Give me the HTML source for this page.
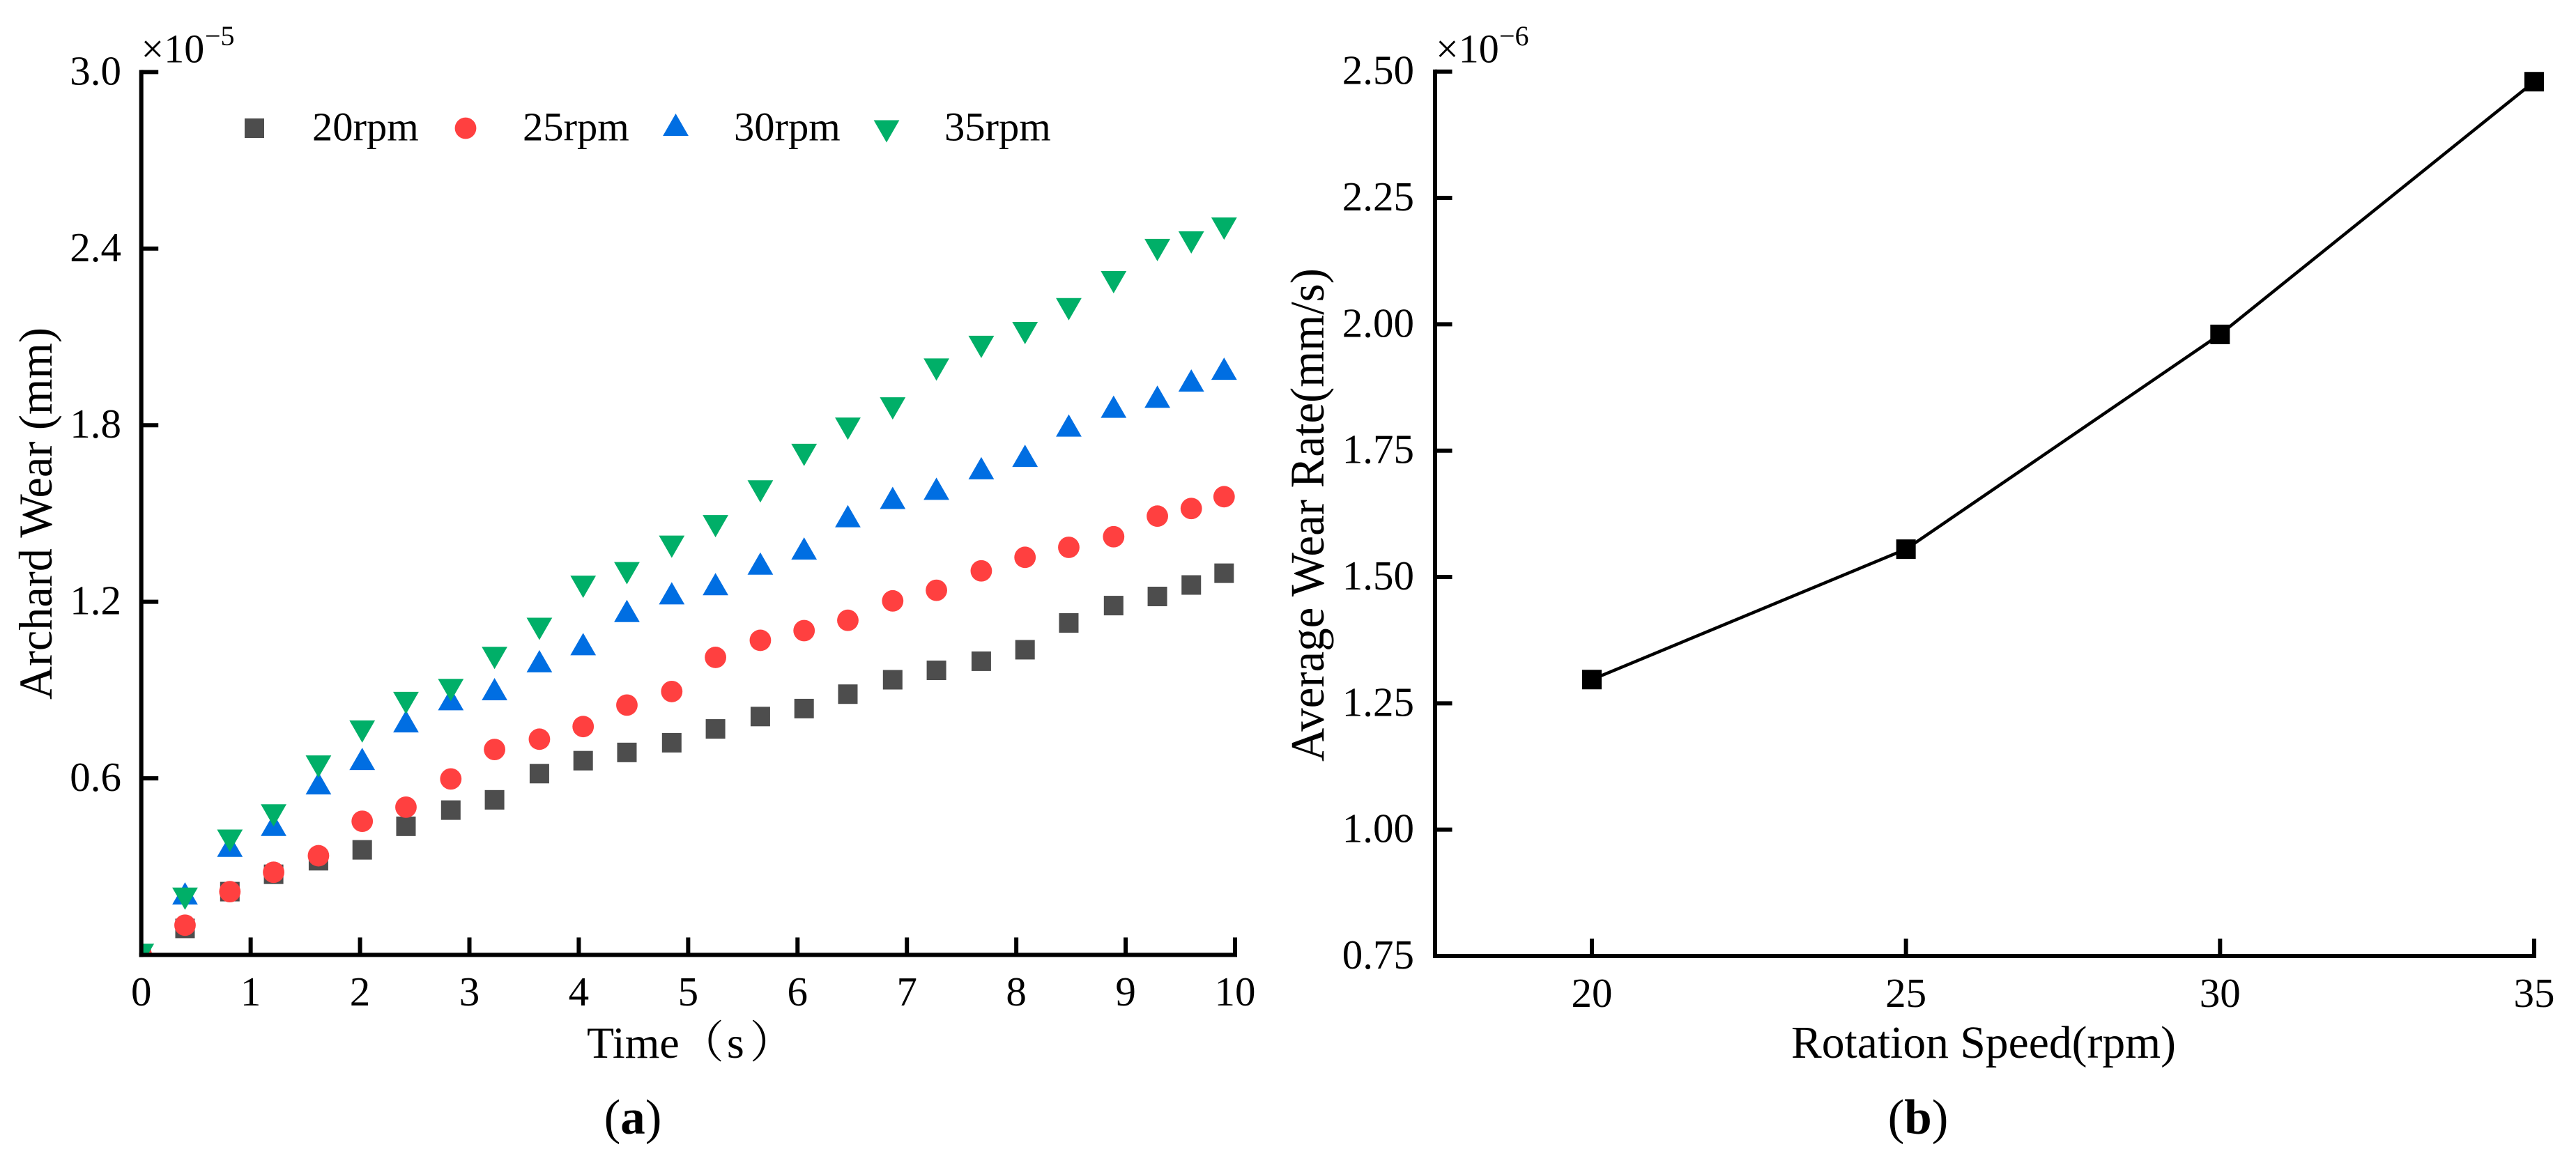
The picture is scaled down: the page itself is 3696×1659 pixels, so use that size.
<!DOCTYPE html>
<html lang="en">
<head>
<meta charset="utf-8">
<title>Archard wear and average wear rate charts</title>
<style>
  html, body { margin: 0; padding: 0; background: #fff; }
  body { width: 3696px; height: 1659px; overflow: hidden; }
  svg { display: block; }
  text { font-family: "Liberation Serif", "Noto Serif CJK SC", serif; fill: #000; }
</style>
</head>
<body>
<svg id="fig" xmlns="http://www.w3.org/2000/svg" width="3696" height="1659" viewBox="0 0 3696 1659">
  <rect x="0" y="0" width="3696" height="1659" fill="#fff"/>
  <defs>
    <clipPath id="plot-a-clip"><rect x="203" y="60" width="1640" height="1311"/></clipPath>
  </defs>

  <g id="panel-a">
    <g id="a-marks" clip-path="url(#plot-a-clip)"></g>
    <g id="a-axes"></g>
    <text x="202.5" y="89.5" font-size="58">×10</text>
    <text x="294" y="65" font-size="40">−5</text>
    <text transform="translate(74 737) rotate(-90)" text-anchor="middle" font-size="68" textLength="534" lengthAdjust="spacingAndGlyphs">Archard Wear (mm)</text>
    <text x="842" y="1518" font-size="64">Time（<tspan dx="4">s</tspan><tspan dx="8">）</tspan></text>
    <g id="a-legend">
      <text x="448" y="201.5" font-size="58.5">20rpm</text>
      <text x="750" y="201.5" font-size="58.5">25rpm</text>
      <text x="1053" y="201.5" font-size="58.5">30rpm</text>
      <text x="1355" y="201.5" font-size="58.5">35rpm</text>
    </g>
    <text x="908" y="1627" text-anchor="middle" font-size="71">(<tspan font-weight="bold">a</tspan>)</text>
  </g>

  <g id="panel-b">
    <g id="b-marks"></g>
    <g id="b-axes"></g>
    <text x="2060" y="89.5" font-size="58">×10</text>
    <text x="2151" y="65" font-size="40">−6</text>
    <text transform="translate(1899 739) rotate(-90)" text-anchor="middle" font-size="69" textLength="708" lengthAdjust="spacingAndGlyphs">Average Wear Rate(mm/s)</text>
    <text x="2570" y="1518" font-size="65.6">Rotation Speed(rpm)</text>
    <text x="2752" y="1627" text-anchor="middle" font-size="71">(<tspan font-weight="bold">b</tspan>)</text>
  </g>
</svg>

<script>
// Panel (a) data: Archard wear (x 1e-5 mm) against time (s)
const timeValues = [0, 0.4, 0.81, 1.21, 1.62, 2.02, 2.42, 2.83, 3.23, 3.64, 4.04, 4.44, 4.85, 5.25, 5.66, 6.06, 6.46, 6.87, 7.27, 7.68, 8.08, 8.48, 8.89, 9.29, 9.6, 9.9];
const wear20rpm = [0, 0.09, 0.215, 0.274, 0.32, 0.357, 0.437, 0.492, 0.527, 0.616, 0.66, 0.688, 0.721, 0.768, 0.81, 0.837, 0.886, 0.935, 0.967, 0.998, 1.037, 1.128, 1.187, 1.218, 1.257, 1.297];
const wear25rpm = [0, 0.101, 0.215, 0.281, 0.337, 0.454, 0.502, 0.598, 0.698, 0.733, 0.776, 0.849, 0.895, 1.011, 1.069, 1.102, 1.137, 1.203, 1.239, 1.305, 1.351, 1.385, 1.421, 1.491, 1.517, 1.557];
const wear30rpm = [0, 0.209, 0.371, 0.442, 0.583, 0.666, 0.794, 0.869, 0.903, 0.998, 1.056, 1.169, 1.229, 1.26, 1.33, 1.381, 1.491, 1.553, 1.584, 1.654, 1.696, 1.799, 1.863, 1.897, 1.952, 1.992];
const wear35rpm = [0, 0.191, 0.388, 0.474, 0.64, 0.759, 0.856, 0.9, 1.009, 1.108, 1.251, 1.297, 1.387, 1.457, 1.575, 1.699, 1.788, 1.857, 1.989, 2.066, 2.113, 2.194, 2.286, 2.395, 2.421, 2.468];
const timeTicks = [0, 1, 2, 3, 4, 5, 6, 7, 8, 9, 10];
const wearTicks = [0.6, 1.2, 1.8, 2.4, 3.0];
const wearTickLabels = ["0.6", "1.2", "1.8", "2.4", "3.0"];

// Panel (b) data: average wear rate (x 1e-6 mm/s) against rotation speed (rpm)
const speedValues = [20, 25, 30, 35];
const rateValues = [1.297, 1.555, 1.98, 2.48];
const rateTicks = [0.75, 1.0, 1.25, 1.5, 1.75, 2.0, 2.25, 2.5];
const rateTickLabels = ["0.75", "1.00", "1.25", "1.50", "1.75", "2.00", "2.25", "2.50"];
const speedTicks = [20, 25, 30, 35];

const NS = "http://www.w3.org/2000/svg";
const TICK_FONT = 59;
const AXIS_W = 6;

function xA(v) { return 202.7 + v * 156.93; }
function yA(v) { return 1370.4 - v * 422.33; }
function xB(v) { return 2284 + (v - 20) * 90.13; }
function yB(v) { return 1372 - (v - 0.75) * 725.3; }

function make(tag, parent) {
  const el = document.createElementNS(NS, tag);
  parent.appendChild(el);
  return el;
}

function rectMarker(parent, cx, cy, fill, size, name) {
  const el = make("rect", parent);
  el.setAttribute("x", cx - size / 2);
  el.setAttribute("y", cy - size / 2);
  el.setAttribute("width", size);
  el.setAttribute("height", size);
  el.setAttribute("fill", fill);
  
  
}

function circleMarker(parent, cx, cy, fill, name) {
  const el = make("circle", parent);
  el.setAttribute("cx", cx);
  el.setAttribute("cy", cy);
  el.setAttribute("r", 15.4);
  el.setAttribute("fill", fill);
  
  
}

function triMarker(parent, cx, cy, fill, dir, name) {
  const el = make("polygon", parent);
  const tip = cy - dir * 16;
  const base = cy + dir * 16;
  el.setAttribute("points", cx + "," + tip + " " + (cx - 18.4) + "," + base + " " + (cx + 18.4) + "," + base);
  el.setAttribute("fill", fill);
  
  
}

function axisLine(parent, x1, y1, x2, y2, name) {
  const el = make("line", parent);
  el.setAttribute("x1", x1);
  el.setAttribute("y1", y1);
  el.setAttribute("x2", x2);
  el.setAttribute("y2", y2);
  el.setAttribute("stroke", "#000");
  el.setAttribute("stroke-width", AXIS_W);
  
  
}

function tickText(parent, x, y, anchor, label, name) {
  const el = make("text", parent);
  el.setAttribute("x", x);
  el.setAttribute("y", y);
  el.setAttribute("text-anchor", anchor);
  el.setAttribute("font-size", TICK_FONT);
  el.textContent = label;
  
  
}

/* Panel (a) marks */
const marksA = document.getElementById("a-marks");
timeValues.forEach(function (t, i) { rectMarker(marksA, xA(t), yA(wear20rpm[i]), "#4d4d4d", 28, "point-20rpm"); });
timeValues.forEach(function (t, i) { circleMarker(marksA, xA(t), yA(wear25rpm[i]), "#ff4040", "point-25rpm"); });
timeValues.forEach(function (t, i) { triMarker(marksA, xA(t), yA(wear30rpm[i]), "#006ee2", 1, "point-30rpm"); });
timeValues.forEach(function (t, i) { triMarker(marksA, xA(t), yA(wear35rpm[i]), "#00af68", -1, "point-35rpm"); });

/* Panel (a) legend markers */
const legendA = document.getElementById("a-legend");
rectMarker(legendA, 365, 184, "#4d4d4d", 28, "legend-marker-20rpm");
circleMarker(legendA, 668, 184, "#ff4040", "legend-marker-25rpm");
triMarker(legendA, 969.5, 179, "#006ee2", 1, "legend-marker-30rpm");
triMarker(legendA, 1272, 188.5, "#00af68", -1, "legend-marker-35rpm");

/* Panel (a) axes */
const axesA = document.getElementById("a-axes");
axisLine(axesA, xA(0), yA(3) - AXIS_W / 2, xA(0), yA(0) + AXIS_W / 2, "y-axis-line-a");
axisLine(axesA, xA(0) - AXIS_W / 2, yA(0), xA(10) + AXIS_W / 2, yA(0), "x-axis-line-a");
wearTicks.forEach(function (v, i) {
  axisLine(axesA, xA(0), yA(v), xA(0) + 24.5, yA(v), "y-tick-a");
  tickText(axesA, 174, yA(v) + 18, "end", wearTickLabels[i], "y-tick-label-a");
});
timeTicks.forEach(function (v) {
  if (v > 0) {
    axisLine(axesA, xA(v), yA(0), xA(v), yA(0) - 25, "x-tick-a");
  }
  tickText(axesA, xA(v), 1443, "middle", String(v), "x-tick-label-a");
});

/* Panel (b) line and marks */
const marksB = document.getElementById("b-marks");
const lineB = make("polyline", marksB);
lineB.setAttribute("points", speedValues.map(function (s, i) { return xB(s) + "," + yB(rateValues[i]); }).join(" "));
lineB.setAttribute("fill", "none");
lineB.setAttribute("stroke", "#000");
lineB.setAttribute("stroke-width", 4.5);


speedValues.forEach(function (s, i) { rectMarker(marksB, xB(s), yB(rateValues[i]), "#000", 28, "wear-rate-point"); });

/* Panel (b) axes */
const axesB = document.getElementById("b-axes");
const xStartB = 2059;
axisLine(axesB, xStartB, yB(2.5) - AXIS_W / 2, xStartB, yB(0.75) + AXIS_W / 2, "y-axis-line-b");
axisLine(axesB, xStartB - AXIS_W / 2, yB(0.75), xB(35) + AXIS_W / 2, yB(0.75), "x-axis-line-b");
rateTicks.forEach(function (v, i) {
  if (v > 0.75) {
    axisLine(axesB, xStartB, yB(v), xStartB + 24.5, yB(v), "y-tick-b");
  }
  tickText(axesB, 2029, yB(v) + 18, "end", rateTickLabels[i], "y-tick-label-b");
});
speedTicks.forEach(function (v) {
  axisLine(axesB, xB(v), yB(0.75), xB(v), yB(0.75) - 25, "x-tick-b");
  tickText(axesB, xB(v), 1445, "middle", String(v), "x-tick-label-b");
});
</script>
</body>
</html>
